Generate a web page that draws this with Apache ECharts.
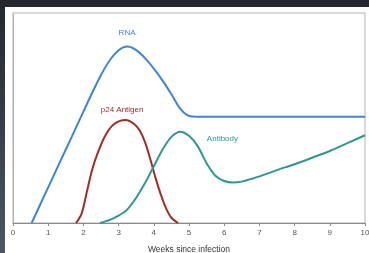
<!DOCTYPE html>
<html>
<head>
<meta charset="utf-8">
<script src="https://cdn.jsdelivr.net/npm/echarts@6/dist/echarts.min.js"></script>
<style>
    html, body {
        margin: 0;
        padding: 0;
        width: 369px;
        height: 253px;
        overflow: hidden;
        background: linear-gradient(to bottom, #22282e, #4b5762);
    }
    #chart {
        position: absolute;
        left: 5px;
        top: 7px;
        width: 364px;
        height: 246px;
        background: #fff;
    }
</style>
</head>
<body>
<div id="chart"></div>
<script>
// weeks since infection, relative level
var weekTicks = [0, 1, 2, 3, 4, 5, 6, 7, 8, 9, 10];
var rnaData = [[0.53, 0], [1.0, 17], [1.5, 35], [1.75, 44], [2.0, 53], [2.25, 62], [2.5, 70.5],
    [2.75, 77.5], [3.0, 82.3], [3.25, 84], [3.5, 82.3], [3.75, 78.5], [4.0, 73.5], [4.25, 67.8],
    [4.5, 61.3], [4.75, 54.5], [5.0, 51], [5.25, 50.6], [6, 50.6], [10, 50.6]];
var p24Data = [[1.79, 0], [1.95, 4.5], [2.1, 15], [2.25, 25.5], [2.4, 33], [2.6, 41], [2.85, 46.8],
    [3.2, 49], [3.45, 47], [3.6, 44], [3.75, 38.5], [3.9, 30.5], [4.05, 21.5], [4.2, 13.5],
    [4.35, 7], [4.5, 2.5], [4.69, 0]];
var antibodyData = [[2.47, 0], [2.75, 1.5], [3.0, 3.5], [3.25, 6.5], [3.5, 12], [3.75, 19], [4.0, 27],
    [4.25, 35], [4.5, 41], [4.75, 43.5], [5.0, 41.5], [5.25, 36.5], [5.5, 28.5], [5.75, 22.5],
    [6.0, 20], [6.25, 19.3], [6.5, 19.7], [6.75, 20.9], [7.0, 22.2], [7.5, 25.2], [8, 28],
    [8.5, 31.1], [9, 34.3], [9.5, 38], [10, 41.8]];
var seriesNames = ['RNA', 'p24 Antigen', 'Antibody'];
var seriesColors = ['#3d85d8', '#a02d26', '#2f978f'];

var chart = echarts.init(document.getElementById('chart'));

function tag(name, color, x, y) {
    return {
        symbol: 'circle',
        symbolSize: 0,
        data: [{ coord: [x, y], value: name }],
        label: { show: true, position: 'inside', color: color, fontSize: 8, fontFamily: 'Liberation Sans', formatter: '{c}' }
    };
}

option = {
    animation: false,
    grid: {
        left: 8, top: 6, right: 4, bottom: 30,
        outerBoundsMode: 'none',
        show: true, borderColor: '#b3b3b3', borderWidth: 1
    },
    xAxis: {
        type: 'value',
        min: weekTicks[0],
        max: weekTicks[weekTicks.length - 1],
        interval: 1,
        name: 'Weeks since infection',
        nameLocation: 'middle',
        nameGap: 22,
        nameTextStyle: { color: '#333', fontSize: 8.5, fontFamily: 'Liberation Sans' },
        axisLine: { lineStyle: { color: '#8a8a8a' } },
        axisTick: { show: true, length: 3, lineStyle: { color: '#8a8a8a' } },
        axisLabel: { color: '#555', fontSize: 8, margin: 6, fontFamily: 'Liberation Sans' },
        splitLine: { show: false }
    },
    yAxis: {
        type: 'value',
        min: 0,
        max: 100,
        axisLine: { show: true, lineStyle: { color: '#b3b3b3' } },
        axisTick: { show: false },
        axisLabel: { show: false },
        splitLine: { show: false }
    },
    series: [
        {
            name: seriesNames[0], type: 'line', data: rnaData, smooth: 0.3, symbol: 'none',
            lineStyle: { color: seriesColors[0], width: 2 },
            markPoint: tag(seriesNames[0], seriesColors[0], 3.24, 90.5)
        },
        {
            name: seriesNames[1], type: 'line', data: p24Data, smooth: 0.3, symbol: 'none',
            lineStyle: { color: seriesColors[1], width: 2 },
            markPoint: tag(seriesNames[1], seriesColors[1], 3.1, 54)
        },
        {
            name: seriesNames[2], type: 'line', data: antibodyData, smooth: 0.3, symbol: 'none',
            lineStyle: { color: seriesColors[2], width: 2 },
            markPoint: tag(seriesNames[2], seriesColors[2], 5.95, 40.2)
        }
    ]
};
chart.setOption(option);
</script>
</body>
</html>
